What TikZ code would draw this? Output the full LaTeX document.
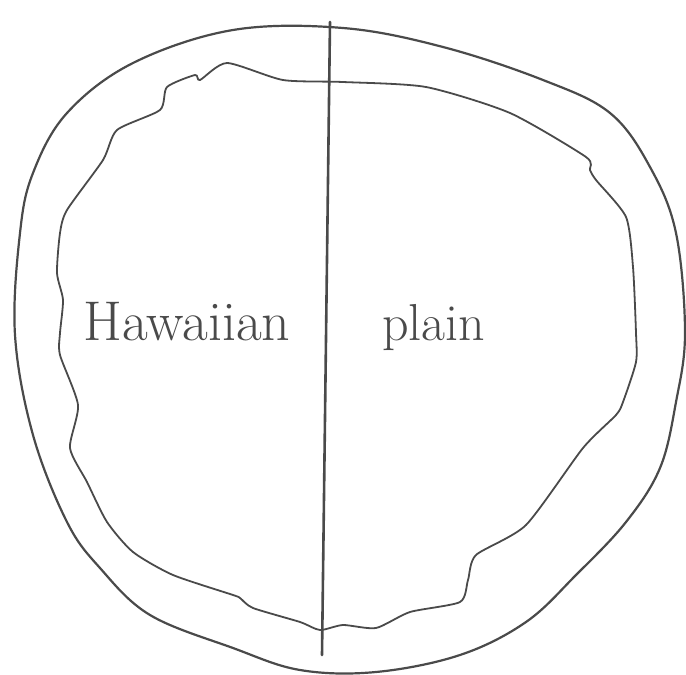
\documentclass[tikz,border=0pt]{standalone}
\usepackage{tikz}
\definecolor{pencil}{HTML}{4A4A4A}

\begin{document}
\begin{tikzpicture}[
    x=0.5pt,y=-0.5pt,
    rim/.style={draw=pencil,line width=1.1pt,line join=round},
    crust/.style={draw=pencil,line width=0.9pt,line join=round},
    cut/.style={draw=pencil,line width=1.3pt,line cap=round},
    topping/.style={font=\fontsize{28}{30}\selectfont,text=pencil,inner sep=0pt,anchor=base west},
]
\useasboundingbox (0,0) rectangle (686,675);
% outer edge of the pizza
\draw[rim] plot[smooth cycle,tension=0.6] coordinates {
  (343,28) (443,47) (543,80) (610,113) (650,167) (676,233) (685,333)
  (676,402) (660,468) (626,522) (576,575) (526,622) (460,655) (376,672)
  (300,670) (233,648) (150,615) (100,568) (67,522) (33,435) (15,335)
  (20,233) (33,173) (67,113) (133,63) (233,30)};
% wavy inner crust line
\draw[crust] plot[smooth cycle,tension=0.4] coordinates {
  (343,82) (426,87) (510,113) (586,157) (590,170) (596,180) (626,217)
  (633,267) (636,333) (636,362) (623,402) (616,415) (583,448) (526,525)
  (476,555) (468,580) (460,602) (410,612) (376,628) (343,625) (320,630)
  (300,622) (253,608) (240,598) (233,595) (173,575) (133,552) (107,522)
  (87,482) (70,448) (78,405) (60,355) (60,333) (63,300) (57,273) (60,233)
  (67,210) (103,160) (117,130) (160,110) (167,87) (195,75) (200,80)
  (227,63) (283,80)};
% the cut between the halves
\draw[cut] (330,22) -- (322,655);

\node[topping] (hawaiian) at (83,340) {Hawaiian};
\node[topping,font=\fontsize{26}{28}\selectfont] (plain) at (382,340) {plain};
\end{tikzpicture}
\end{document}
